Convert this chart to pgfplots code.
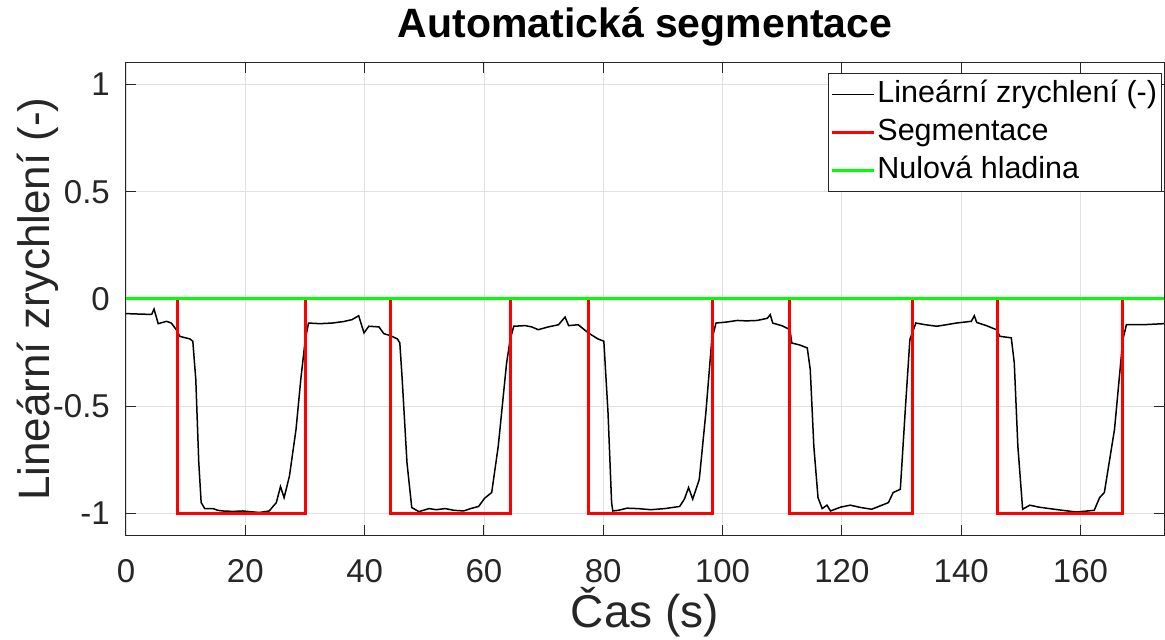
\documentclass[border=0pt]{standalone}
\usepackage{fontspec}
\setmainfont{Liberation Sans}
\usepackage{pgfplots}
\pgfplotsset{compat=1.18}
\definecolor{axgray}{RGB}{38,38,38}
\definecolor{gridc}{RGB}{225,225,225}
\definecolor{mred}{RGB}{255,0,0}
\definecolor{mgreen}{RGB}{0,255,0}
\begin{document}
\begin{tikzpicture}[x=1pt,y=1pt]
\useasboundingbox (-126,-105) rectangle (1039,535);
\begin{axis}[
  at={(0,0)}, anchor=south west,
  scale only axis, width=1038pt, height=472pt,
  xmin=0, xmax=174, ymin=-1.1, ymax=1.1,
  xtick={0,20,...,160},
  ytick={-1,-0.5,0,0.5,1},
  yticklabels={-1,-0.5,0,0.5,1},
  /pgf/number format/assume math mode=true,
  grid=major,
  major grid style={gridc, line width=0.8pt},
  axis line style={axgray, line width=1pt},
  tick style={axgray, line width=1pt},
  tick align=inside, major tick length=10pt,
  tick label style={font=\fontsize{33}{33}\selectfont, text=axgray},
  xticklabel style={anchor=base, yshift=-47pt},
  yticklabel style={inner sep=0pt, xshift=-16pt},
  title={Automatická segmentace},
  title style={font=\bfseries\fontsize{41}{41}\selectfont, at={(axis description cs:0.5,1)}, anchor=base, yshift=19pt},
  xlabel={Čas (s)},
  xlabel style={font=\fontsize{46}{46}\selectfont, text=axgray, at={(axis description cs:0.5,0)}, anchor=base, yshift=-92pt},
  ylabel={Lineární zrychlení (-)},
  ylabel style={font=\fontsize{44}{44}\selectfont, text=axgray, at={(axis description cs:-0.0848,0.5)}, anchor=center},
  legend style={at={(axis description cs:1,1)}, anchor=north east, xshift=-2.5pt, yshift=-10pt,
    draw=axgray, line width=0.8pt, fill=white,
    font=\fontsize{30.5}{30.5}\selectfont, inner xsep=2pt, inner ysep=3pt,
    row sep=2pt, column sep=0pt,
    nodes={inner sep=2pt, text height=24pt, text depth=8pt}},
  legend cell align=left,
  legend image code/.code={\draw[#1] (0pt,0pt) -- (42pt,0pt);},
]
\addplot[black, line width=1.5pt] coordinates {
(0,-0.068) (2,-0.07) (4.3,-0.072) (4.7,-0.047) (5.4,-0.115) (6.8,-0.104) (7.6,-0.112)
(8.6,-0.15) (9.0,-0.174) (10.7,-0.186) (11.2,-0.197) (11.7,-0.375) (12.2,-0.763)
(12.6,-0.949) (13.2,-0.977) (14.6,-0.977) (15.4,-0.985) (16.2,-0.988) (18,-0.99) (19.6,-0.988)
(21,-0.992) (22.4,-0.995) (24.0,-0.988) (25.2,-0.949) (25.9,-0.874) (26.5,-0.926)
(27.4,-0.825) (28.5,-0.608) (29.3,-0.375) (30.05,-0.189) (30.6,-0.112) (32.5,-0.115) (34.6,-0.112)
(36.5,-0.105) (37.9,-0.096) (39.0,-0.078) (39.9,-0.158) (40.7,-0.127) (42.4,-0.13)
(43.2,-0.161) (44.4,-0.172) (45.5,-0.186) (45.9,-0.205) (46.3,-0.375) (47.1,-0.763)
(47.9,-0.972) (49.1,-0.991) (50.8,-0.977) (52,-0.982) (53.5,-0.977) (55,-0.985) (56.6,-0.988)
(58,-0.975) (59.1,-0.967) (60.1,-0.929) (61.3,-0.902) (62.4,-0.686) (63.8,-0.298)
(64.4,-0.189) (65.0,-0.127) (66.9,-0.124) (68,-0.13) (69.1,-0.143) (70.8,-0.13) (72.5,-0.12)
(73.6,-0.084) (74.2,-0.124) (75.8,-0.12) (77.5,-0.158) (79.1,-0.186) (80.1,-0.197)
(80.8,-0.53) (81.4,-0.949) (81.6,-0.988) (82.5,-0.985) (84,-0.975) (85.8,-0.977) (88,-0.982)
(90.3,-0.977) (92.8,-0.967) (93.6,-0.933) (94.3,-0.879) (95.0,-0.933) (96.1,-0.84)
(97.2,-0.53) (98.2,-0.189) (98.9,-0.112) (100.5,-0.108) (102.5,-0.1) (104,-0.102) (105.8,-0.1)
(107.5,-0.09) (108.0,-0.073) (108.4,-0.112) (110,-0.125) (111.3,-0.143) (111.6,-0.205)
(113,-0.215) (114.2,-0.228) (114.7,-0.329) (115.3,-0.686) (116.0,-0.926) (116.7,-0.977)
(117.5,-0.961) (118.1,-0.988) (119.8,-0.97) (121.4,-0.961) (123.2,-0.972) (125.0,-0.98)
(127.8,-0.949) (128.6,-0.902) (129.8,-0.887) (130.6,-0.53) (131.4,-0.189) (132.4,-0.112)
(134,-0.12) (135.9,-0.127) (137.5,-0.12) (139.2,-0.112) (141.7,-0.104) (142.2,-0.078)
(142.6,-0.109) (144.3,-0.125) (145.9,-0.143) (146.5,-0.174) (148.4,-0.181) (148.9,-0.298)
(149.5,-0.686) (150.3,-0.98) (151.5,-0.961) (153,-0.97) (154.8,-0.977) (157,-0.985)
(159.3,-0.993) (162.3,-0.985) (163.2,-0.926) (164.0,-0.902) (165.7,-0.608) (167.1,-0.189)
(167.7,-0.12) (170.4,-0.12) (174,-0.115)
};
\addlegendentry{Lineární zrychlení (-)}
\addplot[mred, line width=3pt] coordinates {
(0,0) (8.6,0) (8.6,-1) (30.05,-1) (30.05,0) (44.4,0) (44.4,-1) (64.4,-1) (64.4,0)
(77.5,0) (77.5,-1) (98.3,-1) (98.3,0) (111.3,0) (111.3,-1) (131.8,-1) (131.8,0)
(146.1,0) (146.1,-1) (167.1,-1) (167.1,0) (174,0)
};
\addlegendentry{Segmentace}
\addplot[mgreen, line width=3pt] coordinates {(0,0) (174,0)};
\addlegendentry{Nulová hladina}
\end{axis}
\end{tikzpicture}
\end{document}
